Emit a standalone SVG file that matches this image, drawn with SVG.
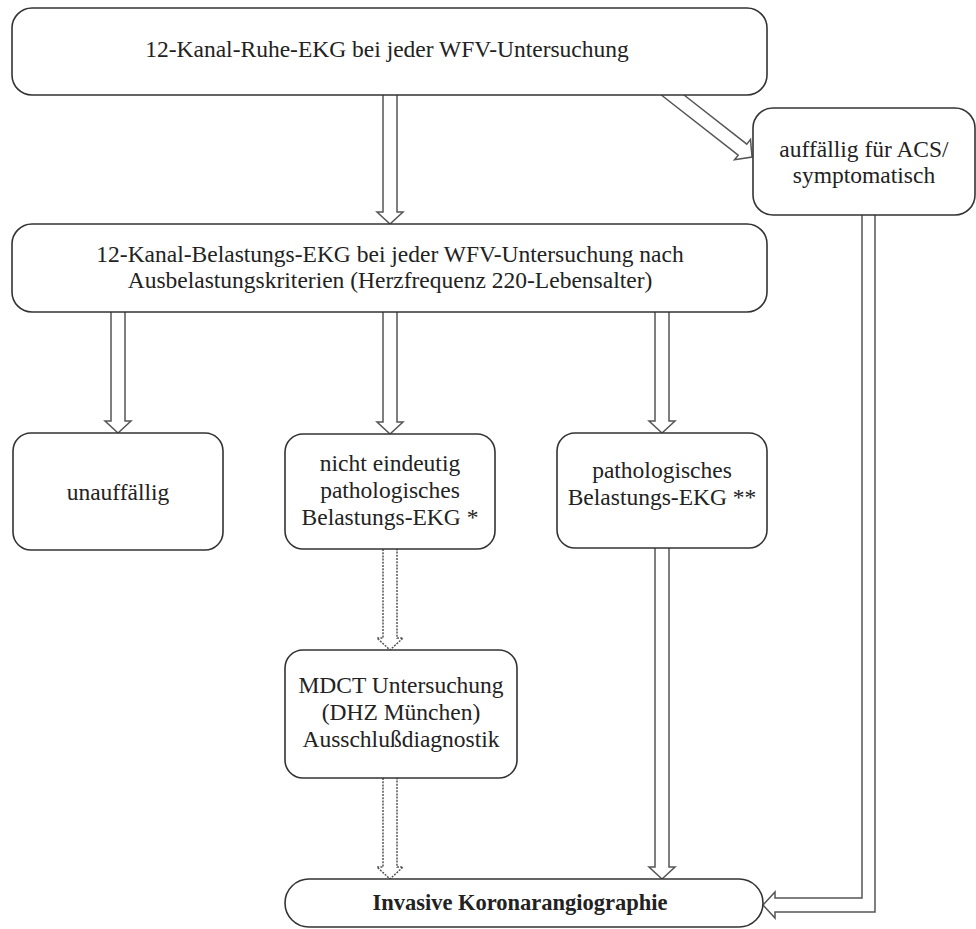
<svg xmlns="http://www.w3.org/2000/svg" width="976" height="929" viewBox="0 0 976 929">
<style>
.box{fill:#fff;stroke:#333;stroke-width:1.6}
.t{font-family:'Liberation Serif','Times New Roman',serif;font-weight:400;font-size:23.5px;fill:#222;text-anchor:middle}
.b{font-weight:700;font-size:22.5px}
.arr{fill:#fff;stroke:#555;stroke-width:1.5;stroke-linejoin:miter}
.dot{fill:#fff;stroke:#555;stroke-width:1.5;stroke-dasharray:2 1.2}
</style>
<rect width="976" height="929" fill="#fff"/>
<g id="connectors">
<path class="arr" d="M383,95 V212 H377 L390,224 L403,212 H397 V95"/>
<path class="arr" d="M684,95 L746.8,144.1 L750.5,139.4 L752,157 L734.5,159.8 L738.2,155.1 L661.3,95"/>
<path class="arr" d="M111,312 V421 H105 L118,433 L131,421 H125 V312"/>
<path class="arr" d="M383,312 V422 H377 L390,434 L403,422 H397 V312"/>
<path class="arr" d="M655,312 V421 H649 L662,433 L675,421 H669 V312"/>
<path class="dot" d="M383,549 V638 H377 L390,650 L403,638 H397 V549"/>
<path class="dot" d="M383,778 V867 H377 L390,879 L403,867 H397 V778"/>
<path class="arr" d="M655,548 V867 H649 L662,879 L675,867 H669 V548"/>
<path class="arr" d="M862,215 V898 H775 V892 L763,905 L775,918 V912 H875 V215"/>
</g>
<g id="n1"><rect class="box" x="12" y="8" width="755" height="87" rx="20"/><text class="t" x="387" y="57">12-Kanal-Ruhe-EKG bei jeder WFV-Untersuchung</text></g>
<g id="n2"><rect class="box" x="753" y="108" width="222" height="107" rx="20"/><text class="t" x="864" y="157">auffällig für ACS/</text><text class="t" x="864" y="183">symptomatisch</text></g>
<g id="n3"><rect class="box" x="12" y="224" width="755" height="88" rx="20"/><text class="t" x="390" y="262">12-Kanal-Belastungs-EKG bei jeder WFV-Untersuchung nach</text><text class="t" x="390" y="288">Ausbelastungskriterien (Herzfrequenz 220-Lebensalter)</text></g>
<g id="n4"><rect class="box" x="13" y="433" width="210" height="117" rx="18"/><text class="t" x="118" y="500">unauffällig</text></g>
<g id="n5"><rect class="box" x="285" y="434" width="210" height="115" rx="18"/><text class="t" x="390" y="471">nicht eindeutig</text><text class="t" x="390" y="498">pathologisches</text><text class="t" x="390" y="525">Belastungs-EKG *</text></g>
<g id="n6"><rect class="box" x="557" y="433" width="210" height="115" rx="18"/><text class="t" x="662" y="478">pathologisches</text><text class="t" x="662" y="505">Belastungs-EKG **</text></g>
<g id="n7"><rect class="box" x="285" y="650" width="232" height="128" rx="18"/><text class="t" x="401" y="693">MDCT Untersuchung</text><text class="t" x="401" y="720">(DHZ München)</text><text class="t" x="401" y="747">Ausschlußdiagnostik</text></g>
<g id="n8"><rect class="box" x="285" y="879" width="478" height="48" rx="24"/><text class="t b" x="520" y="910">Invasive Koronarangiographie</text></g>
</svg>
